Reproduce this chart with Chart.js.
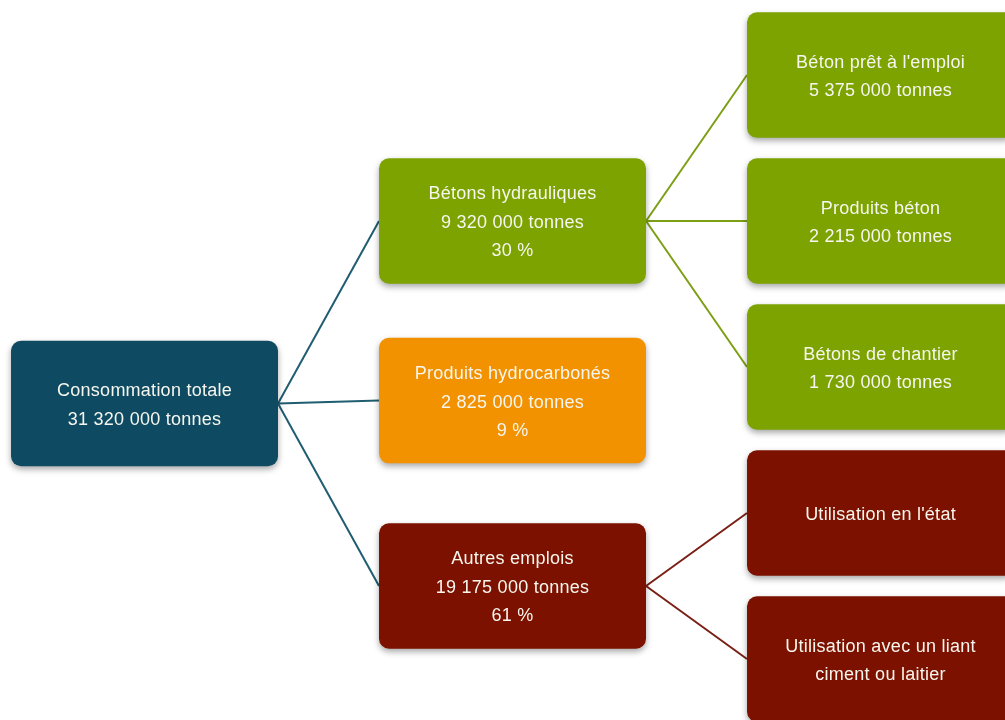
<!DOCTYPE html>
<html>
<head>
<meta charset="utf-8">
<script src="https://cdn.jsdelivr.net/npm/chart.js@4/dist/chart.umd.min.js"></script>
<style>
  html, body { margin: 0; padding: 0; background: #fff; overflow: hidden; }
</style>
</head>
<body>
<canvas id="tree" width="1005" height="720"></canvas>
<script>
// tree data
const nodeNames = ['Consommation totale', 'Bétons hydrauliques', 'Produits hydrocarbonés', 'Autres emplois',
  "Béton prêt à l'emploi", 'Produits béton', 'Bétons de chantier',
  "Utilisation en l'état", 'Utilisation avec un liant\nciment ou laitier'];
const nodeTonnes = [31320000, 9320000, 2825000, 19175000, 5375000, 2215000, 1730000, null, null];
const nodeShares = [null, 30, 9, 61, null, null, null, null, null];
const nodeParent = [-1, 0, 0, 0, 1, 1, 1, 3, 3];

// layout (column / row units, mapped by the chart scales)
const nodeCol = [0, 1, 1, 1, 2, 2, 2, 2, 2];
const nodeRow = [2.25, 1, 2.23, 3.5, 0, 1, 2, 3, 4];
const boxW = 0.7255;
const boxH = 0.86;

const nodeColor = ['#0e4b63', '#7da300', '#f39200', '#7c1100', '#7da300', '#7da300', '#7da300', '#7c1100', '#7c1100'];
const edgeColor = ['#1f5d70', '#7c9f14', null, '#7a1f16'];

function fmtTonnes(n) {
  return String(n).replace(/\B(?=(\d{3})+(?!\d))/g, ' ') + ' tonnes';
}

function nodeLines(i) {
  const lines = nodeNames[i].split('\n');
  if (nodeTonnes[i] != null) lines.push(fmtTonnes(nodeTonnes[i]));
  if (nodeShares[i] != null) lines.push(nodeShares[i] + ' %');
  return lines;
}

const edges = [];
nodeParent.forEach((p, i) => {
  if (p < 0) return;
  edges.push({
    data: [
      { x: nodeCol[p] + boxW / 2, y: nodeRow[p] },
      { x: nodeCol[i] - boxW / 2, y: nodeRow[i] }
    ],
    showLine: true,
    borderColor: edgeColor[p],
    borderWidth: 2,
    pointRadius: 0
  });
});

const boxPlugin = {
  id: 'boxes',
  afterDatasetsDraw(chart) {
    const { ctx, scales: { x, y } } = chart;
    nodeNames.forEach((name, i) => {
      const x0 = x.getPixelForValue(nodeCol[i] - boxW / 2);
      const x1 = x.getPixelForValue(nodeCol[i] + boxW / 2);
      const ya = y.getPixelForValue(nodeRow[i] - boxH / 2);
      const yb = y.getPixelForValue(nodeRow[i] + boxH / 2);
      const top = Math.min(ya, yb), h = Math.abs(yb - ya);

      ctx.save();
      ctx.shadowColor = 'rgba(0,0,0,0.35)';
      ctx.shadowBlur = 6;
      ctx.shadowOffsetY = 3;
      ctx.fillStyle = nodeColor[i];
      ctx.beginPath();
      ctx.roundRect(x0, top, x1 - x0, h, 10);
      ctx.fill();
      ctx.restore();

      ctx.save();
      const lines = nodeLines(i);
      ctx.fillStyle = '#f6f6ee';
      ctx.font = '18px "Liberation Sans", Arial, sans-serif';
      ctx.letterSpacing = '0.25px';
      ctx.textAlign = 'center';
      ctx.textBaseline = 'middle';
      const lh = 28.5;
      const cx = (x0 + x1) / 2;
      const cy = top + h / 2 + 2 - (lines.length - 1) * lh / 2;
      lines.forEach((t, k) => ctx.fillText(t, cx, cy + k * lh));
      ctx.restore();
    });
  }
};

new Chart(document.getElementById('tree'), {
  type: 'scatter',
  data: { datasets: edges },
  options: {
    responsive: false,
    animation: false,
    events: [],
    layout: { padding: 0 },
    plugins: { legend: { display: false }, tooltip: { enabled: false } },
    scales: {
      x: { type: 'linear', display: false, min: -0.3927, max: 2.3383 },
      y: { type: 'linear', display: false, reverse: true, min: -0.514, max: 4.418 }
    }
  },
  plugins: [boxPlugin]
});
</script>
</body>
</html>
